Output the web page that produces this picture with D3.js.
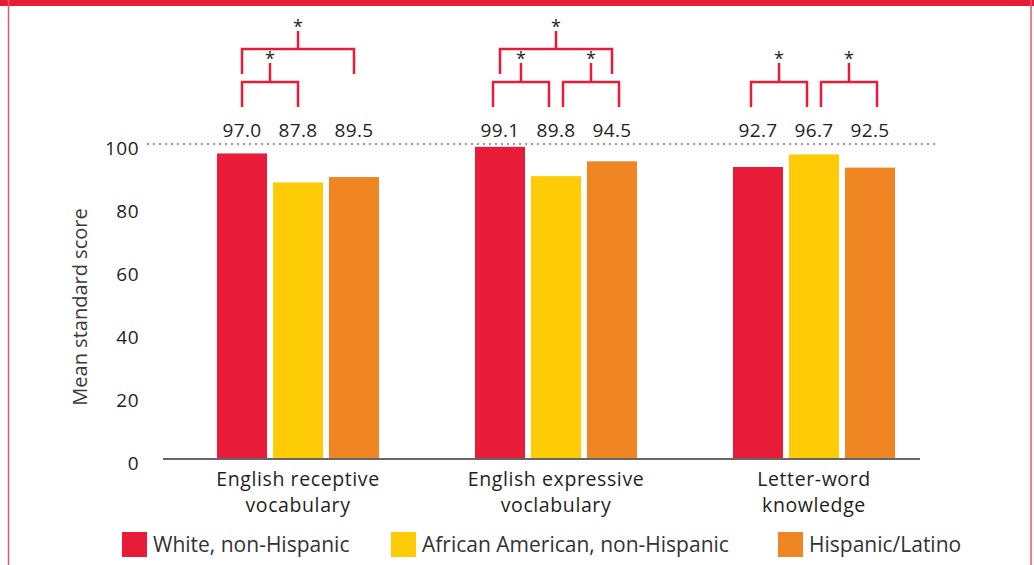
<!DOCTYPE html>
<html>
<head>
<meta charset="utf-8">
<script src="https://cdn.jsdelivr.net/npm/d3@7"></script>
<style>
  body { margin: 0; background: #fff; }
  text { font-family: "Open Sans", Lato, sans-serif; fill: #231f20; }
</style>
</head>
<body>
<div id="chart"></div>
<script>
  // datos
  var categories = [["English receptive", "vocabulary"], ["English expressive", "voclabulary"], ["Letter-word", "knowledge"]];
  var series = ["White, non-Hispanic", "African American, non-Hispanic", "Hispanic/Latino"];
  var colors = ["#e81c38", "#fecc07", "#ef8523"];
  var white = [97.0, 99.1, 92.7];
  var black = [87.8, 89.8, 96.7];
  var hispanic = [89.5, 94.5, 92.5];
  var yTicks = [0, 20, 40, 60, 80, 100];
  // pares con diferencia significativa: [grupo, serie a, serie b, nivel]
  var sigPairs = [[0, 0, 1, 0], [0, 0, 2, 1], [1, 0, 1, 0], [1, 1, 2, 0], [1, 0, 2, 1], [2, 0, 1, 0], [2, 1, 2, 0]];

  var values = [white, black, hispanic];
  var W = 1034, H = 565;

  var svg = d3.select("#chart").append("svg")
    .attr("width", W).attr("height", H);

  // marco
  svg.append("rect").attr("x", 0).attr("y", 0).attr("width", W).attr("height", 6).attr("fill", "#e81c38");
  svg.append("line").attr("x1", 8.5).attr("x2", 8.5).attr("y1", 0).attr("y2", H).attr("stroke", "#e8566b").attr("stroke-width", 1.5);
  svg.append("line").attr("x1", 1031).attr("x2", 1031).attr("y1", 0).attr("y2", H).attr("stroke", "#e8566b").attr("stroke-width", 1.5);

  var y = d3.scaleLinear().domain([0, 100]).range([459, 144]);
  var x0 = d3.scaleBand().domain(d3.range(categories.length)).range([169, 943]);
  var x1 = d3.scaleBand().domain(d3.range(series.length))
    .range([x0.bandwidth() / 2 - 81, x0.bandwidth() / 2 + 81]).paddingInner(0.107);

  // linea punteada en 100
  svg.append("line")
    .attr("x1", 147).attr("x2", 939)
    .attr("y1", y(100)).attr("y2", y(100))
    .attr("stroke", "#999").attr("stroke-width", 2).attr("stroke-dasharray", "2,4");

  // eje y
  svg.selectAll(".ytick").data(yTicks).enter().append("text")
    .attr("x", 139).attr("y", function(d) { return y(d) + 11; })
    .attr("text-anchor", "end").style("font-size", "19px").style("letter-spacing", "0.5px")
    .text(function(d) { return d; });

  svg.append("text")
    .attr("transform", "translate(87," + 307 + ") rotate(-90)")
    .attr("text-anchor", "middle").style("font-size", "20px").style("fill", "#3a3a3a")
    .text("Mean standard score");

  // barras
  var groups = svg.selectAll(".grp").data(categories).enter().append("g")
    .attr("transform", function(d, i) { return "translate(" + x0(i) + ",0)"; });

  groups.each(function(c, gi) {
    var g = d3.select(this);
    series.forEach(function(s, si) {
      var v = values[si][gi];
      g.append("rect")
        .attr("x", x1(si)).attr("width", x1.bandwidth())
        .attr("y", y(v)).attr("height", y(0) - y(v))
        .attr("fill", colors[si]);
      g.append("text")
        .attr("x", x1(si) + x1.bandwidth() / 2).attr("y", 137)
        .attr("text-anchor", "middle").style("font-size", "19px").style("letter-spacing", "0.3px")
        .text(v.toFixed(1));
    });
    // etiqueta de categoria en dos lineas
    c.forEach(function(line, li) {
      g.append("text")
        .attr("x", x0.bandwidth() / 2).attr("y", 485.5 + li * 26.7)
        .attr("text-anchor", "middle").style("font-size", "19.5px").style("letter-spacing", "0.6px")
        .text(line);
    });
  });

  // eje x
  svg.append("line").attr("x1", 163).attr("x2", 920).attr("y1", y(0)).attr("y2", y(0))
    .attr("stroke", "#666").attr("stroke-width", 2);

  // corchetes de significancia
  sigPairs.forEach(function(p) {
    var gi = p[0], a = p[1], b = p[2], lvl = p[3];
    var xa = x0(gi) + x1(a) + x1.bandwidth() / 2;
    var xb = x0(gi) + x1(b) + x1.bandwidth() / 2;
    // separar corchetes que comparten la barra del medio
    var shared = sigPairs.filter(function(q) { return q[0] == gi && q[3] == 0; }).length > 1;
    if (lvl == 0 && shared) {
      if (a == 0) { xa -= 7; xb -= 7; } else { xa += 7; xb += 7; }
    }
    var top = lvl == 0 ? 82 : 49;
    var bottom = lvl == 0 ? 107 : 74;
    var stem = lvl == 0 ? 63 : 31;
    var xm = (xa + xb) / 2;
    svg.append("path")
      .attr("d", "M" + xa + "," + bottom + "V" + top + "H" + xb + "V" + bottom + "M" + xm + "," + top + "V" + stem)
      .attr("fill", "none").attr("stroke", "#e81c38").attr("stroke-width", 2.5);
    svg.append("text")
      .attr("x", xm).attr("y", stem + 2)
      .attr("text-anchor", "middle").style("font-size", "18px")
      .text("*");
  });

  // leyenda
  var legX = [122, 391, 778];
  series.forEach(function(s, i) {
    svg.append("rect").attr("x", legX[i]).attr("y", 532).attr("width", 25).attr("height", 25).attr("fill", colors[i]);
    svg.append("text").attr("x", legX[i] + 31).attr("y", 552).style("font-size", "21px").style("fill", "#333").text(s);
  });
</script>
</body>
</html>
